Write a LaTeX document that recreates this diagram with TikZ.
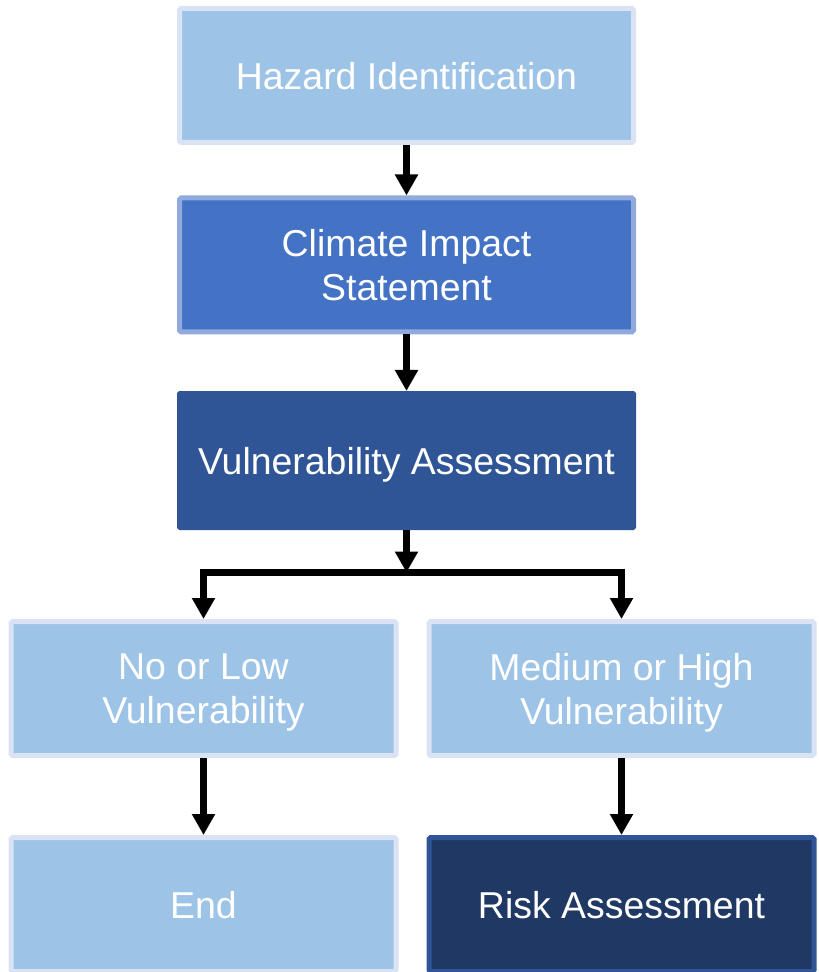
\documentclass[tikz,border=0pt]{standalone}
\usepackage{fontspec}
\setmainfont{Liberation Sans}
\usetikzlibrary{arrows.meta}
\definecolor{paleblue}{HTML}{9DC3E6}
\definecolor{paleedge}{HTML}{DAE3F3}
\definecolor{midblue}{HTML}{4472C4}
\definecolor{midedge}{HTML}{8FAADC}
\definecolor{deepblue}{HTML}{2F5597}
\definecolor{navyblue}{HTML}{203864}

\begin{document}
\begin{tikzpicture}[
	box/.style={rectangle,rounded corners=1pt,text=white,align=center,font=\fontsize{21.3}{25}\selectfont,text depth=0pt,line width=0.1cm,minimum height=2.68cm},
	widebox/.style={box,minimum width=9.08cm},
	halfbox/.style={box,minimum width=7.7cm},
	palebox/.style={fill=paleblue,draw=paleedge},
	flow/.style={-{Triangle[width=0.44cm,length=0.42cm]},line width=0.14cm,black}
]
	\useasboundingbox (0,0) rectangle (16.36,-19.44);

	% main column
	\node[widebox,palebox] (hazard) at (8.13,-1.51) {Hazard Identification};
	\node[widebox,fill=midblue,draw=midedge] (impact) at (8.13,-5.30) {Climate Impact\\Statement};
	\node[box,minimum width=9.15cm,minimum height=2.75cm,line width=0.03cm,fill=deepblue,draw=deepblue] (vuln) at (8.13,-9.21) {Vulnerability Assessment};

	% split
	\coordinate (split) at (8.13,-11.45);

	% outcomes
	\node[halfbox,palebox] (low) at (4.07,-13.77) {No or Low\\Vulnerability};
	\node[halfbox,palebox] (high) at (12.43,-13.77) {Medium or High\\Vulnerability};
	\node[halfbox,palebox] (end) at (4.07,-18.09) {End};
	\node[halfbox,fill=navyblue,draw=deepblue] (risk) at (12.43,-18.09) {Risk Assessment};

	% arrows
	\draw[flow] (hazard) -- (impact);
	\draw[flow] (impact) -- (vuln);
	\draw[flow] (vuln) -- (split);
	\draw[flow] (split) -| (low.north);
	\draw[flow] (split) -| (high.north);
	\draw[flow] (low) -- (end);
	\draw[flow] (high) -- (risk);

\end{tikzpicture}
\end{document}
